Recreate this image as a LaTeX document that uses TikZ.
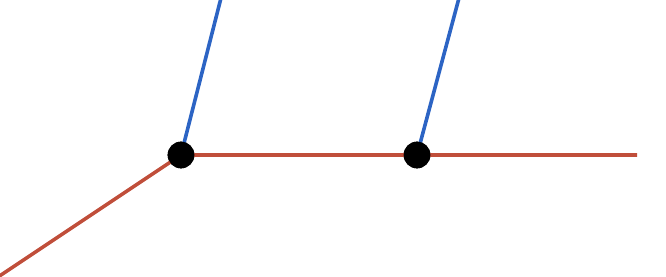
\documentclass[tikz,border=0pt]{standalone}
\usetikzlibrary{positioning}
\definecolor{wire}{RGB}{192,78,58}
\definecolor{link}{RGB}{44,100,196}

\begin{document}
\begin{tikzpicture}[
  x=0.75pt, y=-0.75pt,
  joint/.style={circle, fill=black, minimum size=20pt, inner sep=0pt},
  rail/.style={draw=wire, line width=2.7pt},
  rod/.style={draw=link, line width=2.7pt},
]
\useasboundingbox (0,0) rectangle (666,277);

% ---------------- free ends ----------------
\coordinate (start) at (-2,277);
\coordinate (stop)  at (637,155);
\coordinate (topA)  at (221,-2);
\coordinate (topB)  at (459,-2);

% ---------------- joints ----------------
\node[joint] (jA) at (181,155) {};
\node[joint] (jB) at (417,155) {};

% rods and rail
\draw[rod] (jA.center) -- (topA);
\draw[rod] (jB.center) -- (topB);
\draw[rail] (start) -- (jA.center) -- (jB.center) -- (stop);

% joints again, on top of the lines
\node[joint] at (jA) {};
\node[joint] at (jB) {};

\end{tikzpicture}
\end{document}
